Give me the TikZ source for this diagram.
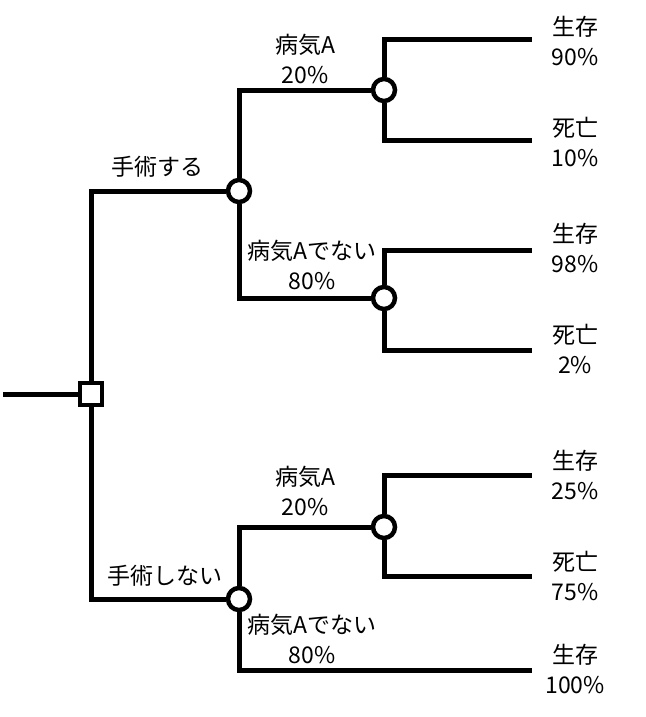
\documentclass[tikz,border=0pt]{standalone}
\usepackage{fontspec}
\setmainfont{Noto Sans CJK JP}
\begin{document}
\begin{tikzpicture}[x=1pt,y=-1pt,
  edge/.style={line width=5pt},
  chance/.style={circle,draw,line width=4.5pt,fill=white,minimum size=22pt,inner sep=0pt},
  decision/.style={rectangle,draw,line width=4.5pt,fill=white,minimum size=22pt,inner sep=0pt},
  lbl/.style={align=center,font=\fontsize{23pt}{30pt}\selectfont,inner sep=0pt}]
\useasboundingbox (0,0) rectangle (645,717);
% nodes
\coordinate (r) at (3,394);
\node[decision] (d) at (91,394) {};
\node[chance] (c1) at (239,191) {};
\node[chance] (c2) at (239,599) {};
\node[chance] (c11) at (384,90) {};
\node[chance] (c12) at (384,298) {};
\node[chance] (c21) at (384,527) {};
\coordinate (e1) at (532,40);
\coordinate (e2) at (532,140);
\coordinate (e3) at (532,250);
\coordinate (e4) at (532,350);
\coordinate (e5) at (532,475);
\coordinate (e6) at (532,576);
\coordinate (e7) at (532,670);
% edges
\draw[edge] (r) -- (d);
\draw[edge] (d) |- (c1);
\draw[edge] (d) |- (c2);
\draw[edge] (c1) |- (c11);
\draw[edge] (c1) |- (c12);
\draw[edge] (c2) |- (c21);
\draw[edge] (c2) |- (e7);
\draw[edge] (c11) |- (e1);
\draw[edge] (c11) |- (e2);
\draw[edge] (c12) |- (e3);
\draw[edge] (c12) |- (e4);
\draw[edge] (c21) |- (e5);
\draw[edge] (c21) |- (e6);
% labels
\node[lbl] (l1) at (157,167) {手術する};
\node[lbl] (l2) at (165,576) {手術しない};
\node[lbl] (l11) at (305,59) {病気A\\20\%};
\node[lbl] (l12) at (312,265) {病気Aでない\\80\%};
\node[lbl] (l21) at (305,491) {病気A\\20\%};
\node[lbl] (l22) at (312,639) {病気Aでない\\80\%};
\node[lbl] (o1) at (575,41) {生存\\90\%};
\node[lbl] (o2) at (575,142) {死亡\\10\%};
\node[lbl] (o3) at (575,248) {生存\\98\%};
\node[lbl] (o4) at (575,349) {死亡\\2\%};
\node[lbl] (o5) at (575,475) {生存\\25\%};
\node[lbl] (o6) at (575,576) {死亡\\75\%};
\node[lbl] (o7) at (575,669) {生存\\100\%};
\end{tikzpicture}
\end{document}
